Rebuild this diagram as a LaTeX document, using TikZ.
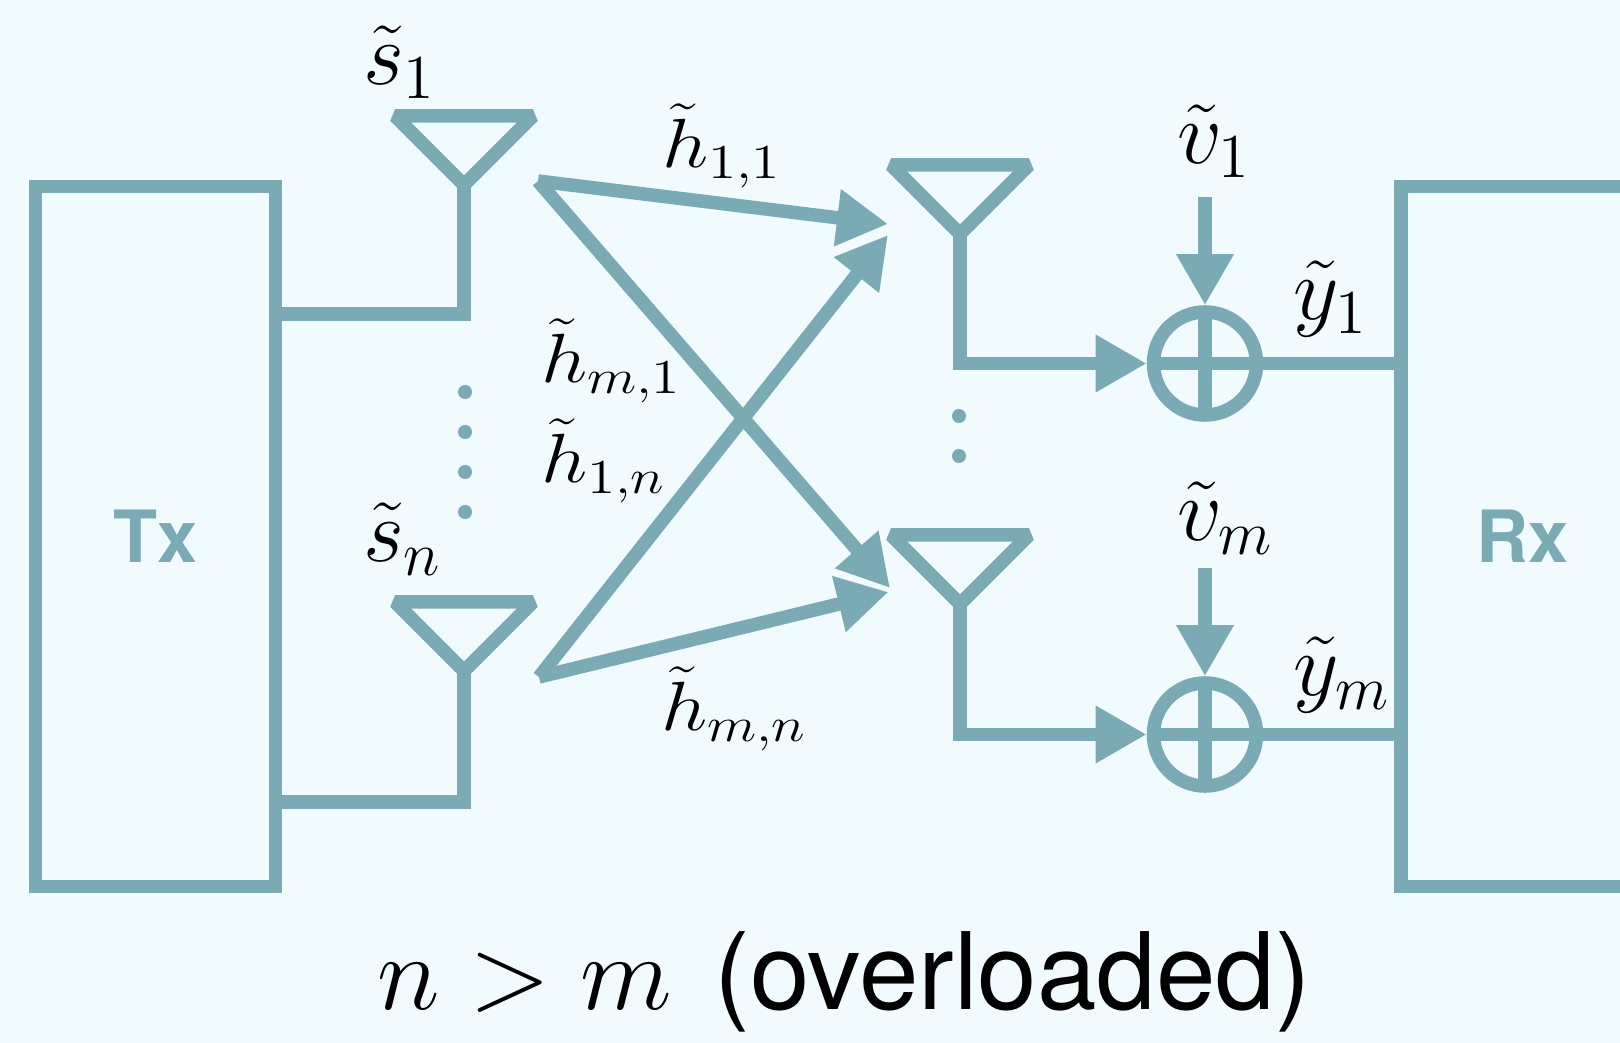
\RequirePackage{fix-cm}
\documentclass[tikz,border=0pt]{standalone}
\usepackage[no-math]{fontspec}
\setsansfont{TeX Gyre Heros}
\usepackage{tikz}
\usetikzlibrary{
  positioning,
  arrows.meta,
  calc
}
\definecolor{chanteal}{HTML}{7AABB5}
\definecolor{chanbg}{HTML}{F1FAFC}

\begin{document}
\begin{tikzpicture}[
  x=0.01cm, y=-0.01cm,
  line width=0.135cm,
  wire/.style={draw=chanteal},
  arr/.style={-{Triangle[length=0.51cm, width=0.54cm]}, chanteal},
  antenna/.style={draw=chanteal, line join=bevel},
  unitbox/.style={draw=chanteal, rectangle, inner sep=0pt, outer sep=0pt, minimum height=7cm,
                  font=\sffamily\bfseries\fontsize{20.5}{24}\selectfont, text=chanteal},
  sumnode/.style={draw=chanteal, circle, inner sep=0pt, minimum size=1.03cm,
                  path picture={
                    \draw[chanteal] (path picture bounding box.north) -- (path picture bounding box.south);
                    \draw[chanteal] (path picture bounding box.west) -- (path picture bounding box.east);
                  }},
  lab/.style={anchor=base west, inner sep=0pt, outer sep=0pt, font=\fontsize{23.3}{28}\selectfont},
  tall/.style={lab, xscale=1.08, yscale=1.09, transform shape},
  flat/.style={lab, yscale=0.85, transform shape},
]

\fill[chanbg] (0,0) rectangle (1620,1043);
\useasboundingbox (0,0) rectangle (1620,1043);

% transmit and receive units
\node[unitbox, minimum width=2.4cm] (tx) at (155.5,536.5) {Tx};
\node[unitbox, minimum width=2.44cm] (rx) at (1523,536.5) {Rx};

% adders
\node[sumnode] (sum1) at (1205,363.5) {};
\node[sumnode] (sum2) at (1205,734.5) {};

% antenna feet
\coordinate (anta) at (464,185);
\coordinate (antb) at (464,671);
\coordinate (antc) at (960,234);
\coordinate (antd) at (960,604);

\draw[antenna] (anta) -- ++(-69,-69) -- ++(138,0) -- cycle;
\draw[antenna] (antb) -- ++(-69,-69) -- ++(138,0) -- cycle;
\draw[antenna] (antc) -- ++(-69,-69) -- ++(138,0) -- cycle;
\draw[antenna] (antd) -- ++(-69,-69) -- ++(138,0) -- cycle;

% feeds from Tx
\coordinate (feeda) at (282,314);
\coordinate (feedb) at (282,802);
\draw[wire] (feeda) -| (anta);
\draw[wire] (feedb) -| (antb);

% channel
\coordinate (srca) at (538,181);
\coordinate (srcb) at (539,677);
\coordinate (dsta) at (888,224);
\coordinate (dstb) at (888,235);
\coordinate (dstc) at (890,588);
\coordinate (dstd) at (888.5,592);
\draw[arr] (srca) -- (dsta);
\draw[arr] (srca) -- (dstc);
\draw[arr] (srcb) -- (dstb);
\draw[arr] (srcb) -- (dstd);

% receive side
\draw[arr] (antc) |- (sum1);
\draw[arr] (antd) |- (sum2);
\draw[wire] (sum1) -- (sum1 -| rx.west);
\draw[wire] (sum2) -- (sum2 -| rx.west);

% noise inputs
\coordinate (noisea) at (1205,197);
\coordinate (noiseb) at (1205,568);
\draw[arr] (noisea) -- (sum1);
\draw[arr] (noiseb) -- (sum2);

% dots
\foreach \y in {392,432,472,512} {
  \fill[chanteal] (465,\y) circle[radius=0.07cm];
}
\foreach \y in {416,456} {
  \fill[chanteal] (959,\y) circle[radius=0.07cm];
}

% labels
\node[tall] (ls1) at (363,85) {$\tilde{s}_1$};
\node[tall] (lsn) at (363,562) {$\tilde{s}_n$};
\node[flat] (lh11) at (662,168) {$\tilde{h}_{1,1}$};
\node[flat] (lhm1) at (541,383) {$\tilde{h}_{m,1}$};
\node[flat] (lh1n) at (541,483) {$\tilde{h}_{1,n}$};
\node[flat] (lhmn) at (661,731) {$\tilde{h}_{m,n}$};
\node[tall] (lv1) at (1177,164) {$\tilde{v}_1$};
\node[tall] (lvm) at (1177,541) {$\tilde{v}_m$};
\node[tall] (ly1) at (1293,320) {$\tilde{y}_1$};
\node[tall] (lym) at (1293,696) {$\tilde{y}_m$};

\node[anchor=base west, inner sep=0pt, outer sep=0pt, font=\sffamily\fontsize{30.4}{36}\selectfont] (cap) at (377,1010)
  {$n>m$\hspace{0.43cm}(overloaded)};

\end{tikzpicture}
\end{document}
